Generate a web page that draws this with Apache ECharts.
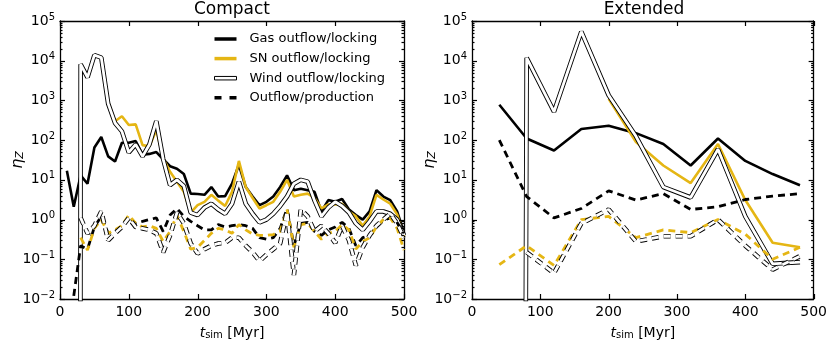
<!DOCTYPE html>
<html>
<head>
<meta charset="utf-8">
<title>eta_Z</title>
<script src="https://cdn.jsdelivr.net/npm/echarts@6/dist/echarts.min.js"></script>
<style>
  html, body { margin: 0; padding: 0; background: #fff; }
  #chart { width: 830px; height: 345px; }
</style>
</head>
<body>
<div id="chart"></div>
<script>
// value used where the curve drops to zero (drawn as a vertical drop on a log axis)
var ZERO = 1e-200;

// ---- Compact run (every 10 Myr) ----
var tCompact = [10, 20, 30, 40, 50, 60, 70, 80, 90, 100, 110, 120, 130, 140, 150, 160, 170, 180, 190, 200,
  210, 220, 230, 240, 250, 260, 270, 280, 290, 300, 310, 320, 330, 340, 350, 360, 370, 380, 390, 400,
  410, 420, 430, 440, 450, 460, 470, 480, 490, 500];
var gasLockC = [17, 2.1, 13, 8, 65, 120, 39, 29, 86, 86, 95, 43, 45, 50, 33, 22, 19, 14, 4.5, 4.4,
  4.2, 6.6, 3.8, 3.9, 8, 24, 6.6, 3.8, 2.3, 2.8, 3.8, 6.6, 13, 5.5, 6, 5.5, 5, 1.6, 3.1, 2.8,
  3.3, 1.8, 1.3, 1.0, 1.6, 5.5, 3.8, 3.1, 1.6, 0.47];
var snLockC = [null, ZERO, 8100, 3800, 13800, 12000, 900, 300, 400, 240, 250, 75, 70, 180, 35, 16, 9, 5, 1.5, 2.3,
  2.8, 4.2, 3, 2.2, 5, 30, 6.6, 3.5, 1.9, 2.3, 2.8, 5, 10, 3.8, 4.2, 4.5, 3.5, 1.9, 2.4, 2.4,
  2.5, 1.6, 1.2, 0.7, 1.2, 4.2, 3.2, 2.5, 1.35, 0.39];
var windLockC = [null, ZERO, 8100, 3800, 13800, 12000, 830, 270, 166, 49, 78, 39, 78, 300, 33, 7.4, 10, 7, 1.5, 1.3,
  2, 2.5, 1.8, 1.4, 2.5, 9, 2.5, 1.4, 0.85, 1, 1.4, 2.2, 3.8, 8, 10, 9, 3, 1.2, 2, 2.8,
  2.2, 1.5, 0.8, 0.55, 0.9, 1.6, 1.6, 1.4, 1.0, 0.4];
var gasProdC = [null, 0.012, 0.22, 0.18, 0.65, 1.2, 0.45, 0.5, 0.65, 1.2, 0.8, 0.9, 1.0, 1.1, 0.5, 1.3, 1.9, 1.2, 0.9, 0.7,
  0.55, 0.55, 0.75, 0.65, 0.7, 0.75, 0.7, 0.6, 0.35, 0.32, 0.35, 0.6, 1.9, 0.22, 0.8, 0.85, 0.5, 0.4, 0.55, 0.65,
  0.85, 0.6, 0.22, 0.35, 0.4, 0.65, 0.95, 1.1, 0.85, 0.45];
var snProdC = [null, null, 0.35, 0.17, 0.6, 1.0, 0.45, 0.55, 0.7, 1.3, 0.8, 0.65, 0.7, 0.6, 0.28, 0.5, 1.3, 0.5, 0.18, 0.2,
  0.3, 0.45, 0.6, 0.55, 0.45, 0.75, 0.55, 0.43, 0.4, 0.4, 0.42, 0.5, 1.8, 0.2, 0.75, 0.8, 0.5, 0.32, 0.45, 0.5,
  0.75, 0.55, 0.18, 0.28, 0.35, 0.65, 1.0, 1.1, 0.6, 0.17];
var windProdC = [null, null, 1.1, 0.45, 0.7, 1.6, 0.3, 0.45, 0.65, 1.1, 0.65, 0.6, 0.55, 0.45, 0.15, 0.4, 1.5, 0.8, 0.25, 0.14,
  0.18, 0.22, 0.25, 0.26, 0.35, 0.35, 0.22, 0.15, 0.09, 0.13, 0.18, 0.25, 1.6, 0.04, 1.8, 1.2, 0.5, 0.7, 0.45, 0.26,
  0.7, 0.3, 0.07, 0.2, 0.4, 0.7, 1.0, 1.4, 0.8, 0.35];

// ---- Extended run (every 40 Myr) ----
var tExtended = [40, 80, 120, 160, 200, 240, 280, 320, 360, 400, 440, 480];
var gasLockE = [780, 110, 55, 190, 230, 150, 80, 23, 110, 30, 14, 7.3];
var snLockE = [null, null, null, null, 1100, 90, 23, 8.3, 80, 3.1, 0.26, 0.2];
var windLockE = [ZERO, 11800, 520, 54000, 1350, 125, 6.6, 3.6, 59, 1.2, 0.077, 0.085];
var gasProdE = [100, 3.8, 1.1, 1.9, 5.3, 3.1, 4.5, 1.8, 2.1, 3.2, 3.9, 4.5];
var snProdE = [0.073, 0.22, 0.07, 1.0, 1.2, 0.35, 0.55, 0.47, 1.0, 0.43, 0.1, 0.2];
var windProdE = [null, 0.15, 0.045, 0.8, 1.8, 0.28, 0.38, 0.38, 1.0, 0.22, 0.055, 0.12];

var xTicks = [0, 100, 200, 300, 400, 500];
var decadeExp = [-2, -1, 0, 1, 2, 3, 4, 5];
var panelTitles = ['Compact', 'Extended'];
var legendNames = ['Gas outflow/locking', 'SN outflow/locking', 'Wind outflow/locking', 'Outflow/production'];

var GOLD = '#e5b614';
var FONT = 'DejaVu Sans';
var DASH = [7, 5];

// minor log ticks (2..9 in each decade), in exponent space
var minorExp = [];
decadeExp.slice(0, -1).forEach(function (n) {
  for (var k = 2; k <= 9; k++) minorExp.push(n + Math.log10(k));
});

function pairs(t, v) {
  return t.map(function (x, i) { return [x, v[i]]; });
}

var panelLefts = [60, 472];
var grids = panelLefts.map(function (l) {
  return { left: l, top: 21, width: 344, height: 283 };
});

var xAxes = [], yAxes = [], series = [];

function expLabel(v) {
  var e = Math.round(Math.log10(v));
  var s = e < 0 ? '\u2212' + (-e) : '' + e;
  return '{b|10}{s|' + s + '}';
}

function spine() { return { show: true, onZero: false, lineStyle: { color: '#000', width: 1.3 } }; }

[0, 1].forEach(function (gi) {
  xAxes.push({
    gridIndex: gi, type: 'value', min: 0, max: 500, interval: 100, position: 'bottom',
    axisLine: spine(), splitLine: { show: false }, axisTick: { show: false },
    axisLabel: { color: '#000', fontSize: 14, fontFamily: FONT, margin: 6 },
    name: '{i|t}{sub|sim} [Myr]', nameLocation: 'middle', nameGap: 27, nameMoveOverlap: false,
    nameTextStyle: {
      color: '#000', fontSize: 14, fontFamily: FONT,
      rich: {
        i: { fontSize: 14, fontStyle: 'italic', fontFamily: FONT, color: '#000' },
        sub: { fontSize: 10, fontFamily: FONT, color: '#000', lineHeight: 8, verticalAlign: 'bottom' }
      }
    }
  });
  xAxes.push({
    gridIndex: gi, type: 'value', min: 0, max: 500, interval: 100, position: 'top',
    axisLine: spine(), splitLine: { show: false }, axisTick: { show: false }, axisLabel: { show: false }
  });
  yAxes.push({
    gridIndex: gi, type: 'log', logBase: 10, min: 0.01, max: 1e5, splitNumber: 7, position: 'left',
    axisLine: spine(), splitLine: { show: false }, axisTick: { show: false },
    axisLabel: {
      formatter: expLabel, margin: 5, color: '#000',
      rich: {
        b: { fontSize: 14, fontFamily: FONT, color: '#000', lineHeight: 18 },
        s: { fontSize: 10, fontFamily: FONT, color: '#000', lineHeight: 10, verticalAlign: 'top' }
      }
    },
    name: '{e|\u03b7}{s|Z}', nameLocation: 'middle', nameGap: 34, nameRotate: 90, nameMoveOverlap: false,
    nameTextStyle: {
      color: '#000',
      rich: {
        e: { fontSize: 16, fontStyle: 'italic', fontFamily: FONT, color: '#000' },
        s: { fontSize: 11, fontStyle: 'italic', fontFamily: FONT, color: '#000', lineHeight: 8, verticalAlign: 'bottom' }
      }
    }
  });
  yAxes.push({
    gridIndex: gi, type: 'log', logBase: 10, min: 0.01, max: 1e5, splitNumber: 7, position: 'right',
    axisLine: spine(), splitLine: { show: false }, axisTick: { show: false }, axisLabel: { show: false }
  });
});

function solid(name, gi, t, v, color, width) {
  return {
    name: name, type: 'line', xAxisIndex: gi * 2, yAxisIndex: gi * 2,
    data: pairs(t, v), showSymbol: false, symbol: 'none', silent: true, animation: false,
    lineStyle: { color: color, width: width }, itemStyle: { color: color }
  };
}
function dashed(name, gi, t, v, color, width) {
  var s = solid(name, gi, t, v, color, width);
  s.lineStyle.type = DASH;
  return s;
}

var sets = [
  [tCompact, gasLockC, snLockC, windLockC, gasProdC, snProdC, windProdC],
  [tExtended, gasLockE, snLockE, windLockE, gasProdE, snProdE, windProdE]
];
sets.forEach(function (d, gi) {
  var t = d[0];
  series.push(solid(legendNames[0], gi, t, d[1], '#000', 2.6));
  series.push(solid(legendNames[1], gi, t, d[2], GOLD, 2.6));
  series.push(solid('wind edge ' + gi, gi, t, d[3], '#000', 4.6));
  series.push(solid(legendNames[2], gi, t, d[3], '#fff', 2.8));
  series.push(dashed(legendNames[3], gi, t, d[4], '#000', 2.8));
  series.push(dashed('SN production ' + gi, gi, t, d[5], GOLD, 2.8));
  series.push(dashed('wind production edge ' + gi, gi, t, d[6], '#000', 4.6));
  series.push(dashed('wind production ' + gi, gi, t, d[6], '#fff', 2.8));
});

var chart = echarts.init(document.getElementById('chart'), null, { renderer: 'canvas' });
chart.setOption({
  animation: false,
  backgroundColor: '#fff',
  title: panelTitles.map(function (txt, i) {
    return {
      text: txt, left: panelLefts[i] + 172, top: 1, textAlign: 'center', padding: 0,
      textStyle: { fontSize: 17, fontWeight: 'normal', fontFamily: FONT, color: '#000' }
    };
  }),
  legend: {
    orient: 'vertical', left: 214, top: 31, padding: 0,
    itemWidth: 22, itemHeight: 3.5, itemGap: 3.6, selectedMode: false,
    textStyle: { fontSize: 13, fontFamily: FONT, color: '#000', lineHeight: 16, padding: [0, 0, 0, 8] },
    data: [
      { name: legendNames[0], icon: 'rect', itemStyle: { color: '#000' } },
      { name: legendNames[1], icon: 'rect', itemStyle: { color: GOLD } },
      { name: legendNames[2], icon: 'rect', itemStyle: { color: '#fff', borderColor: '#000', borderWidth: 1 } },
      { name: legendNames[3], icon: 'path://M0,0H7V3.5H0ZM15,0H22V3.5H15Z', itemStyle: { color: '#000' } }
    ]
  },
  grid: grids,
  xAxis: xAxes,
  yAxis: yAxes,
  series: series
});

// inward ticks on all four sides, placed through the grid's own scales
function seg(x1, y1, x2, y2) {
  return {
    type: 'line', z: 50, silent: true,
    shape: { x1: x1, y1: y1, x2: x2, y2: y2 },
    style: { stroke: '#000', lineWidth: 1.2 }
  };
}
var tickEls = [];
[0, 1].forEach(function (gi) {
  var f = { gridIndex: gi };
  var lb = chart.convertToPixel(f, [0, 0.01]);
  var rt = chart.convertToPixel(f, [500, 1e5]);
  if (!lb || !rt) return;
  xTicks.forEach(function (t) {
    var px = Math.round(chart.convertToPixel(f, [t, 1])[0]) + 0.5;
    tickEls.push(seg(px, lb[1], px, lb[1] - 5));
    tickEls.push(seg(px, rt[1], px, rt[1] + 5));
  });
  [[decadeExp, 5], [minorExp, 2.5]].forEach(function (set) {
    set[0].forEach(function (e) {
      var py = Math.round(chart.convertToPixel(f, [0, Math.pow(10, e)])[1]) + 0.5;
      tickEls.push(seg(lb[0], py, lb[0] + set[1], py));
      tickEls.push(seg(rt[0], py, rt[0] - set[1], py));
    });
  });
});
chart.setOption({ graphic: { elements: tickEls } });
</script>
</body>
</html>
